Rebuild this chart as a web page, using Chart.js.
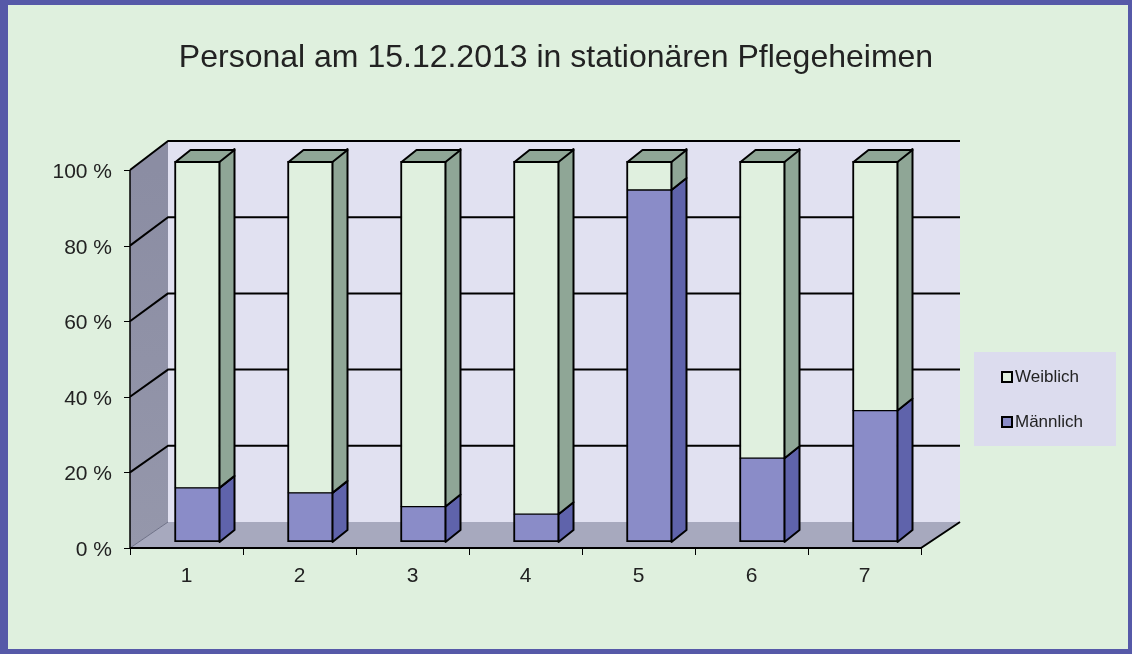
<!DOCTYPE html>
<html>
<head>
<meta charset="utf-8">
<script src="https://cdn.jsdelivr.net/npm/chart.js@4/dist/chart.umd.min.js"></script>
<style>
html,body{margin:0;padding:0;background:#5659a8;}
canvas{display:block;}
</style>
</head>
<body>
<canvas id="c" width="1132" height="654"></canvas>
<script>
const chartTitle = 'Personal am 15.12.2013 in stationären Pflegeheimen';
const categories = ['1', '2', '3', '4', '5', '6', '7'];
const maennlich = [14.2, 12.9, 9.3, 7.3, 92.4, 22.0, 34.5];
const weiblich = [85.8, 87.1, 90.7, 92.7, 7.6, 78.0, 65.5];
const yTicks = [0, 20, 40, 60, 80, 100];
const yTickLabels = ['0 %', '20 %', '40 %', '60 %', '80 %', '100 %'];
const seriesLabels = ['Männlich', 'Weiblich'];

const FONT = '"Liberation Sans", Arial, sans-serif';
const COL = {
  bg: '#dff0de', border: '#5659a8', back: '#e1e1f1', floor: '#a7a9be', left: '#8f91a6',
  wFront: '#e0f0df', wSide: '#8fa696', mFront: '#8a8cc8', mSide: '#5f63ab', text: '#222'
};
const BAR_DX = 15, BAR_DY = 12;

const threeD = {
  id: 'threeD',
  beforeDraw(chart) {
    const ctx = chart.ctx;
    ctx.save();
    ctx.fillStyle = COL.border;
    ctx.fillRect(0, 0, chart.width, chart.height);
    ctx.fillStyle = COL.bg;
    ctx.fillRect(8, 5, 1120, 644);
    // title
    ctx.fillStyle = COL.text;
    ctx.font = '32px ' + FONT;
    ctx.textAlign = 'center';
    ctx.textBaseline = 'alphabetic';
    ctx.fillText(chartTitle, 556, 67);
    ctx.restore();
  },
  beforeDatasetsDraw(chart) {
    const ctx = chart.ctx, x = chart.scales.x, y = chart.scales.y;
    const bot = y.bottom;
    const frontY = v => bot + 6 + (y.getPixelForValue(v) - bot) * 378 / 381;
    const backY = v => y.getPixelForValue(v) - 20;
    const fL = x.left - 11, fR = x.right - 11;
    const bL = x.left + 27, bR = x.right + 28;
    const f0 = frontY(0), f100 = frontY(100), b0 = backY(0), b100 = backY(100);
    ctx.save();
    // back wall
    ctx.fillStyle = COL.back;
    ctx.fillRect(bL, b100, bR - bL, b0 - b100);
    // floor
    ctx.fillStyle = COL.floor;
    ctx.beginPath();
    ctx.moveTo(fL, f0); ctx.lineTo(bL, b0); ctx.lineTo(bR, b0); ctx.lineTo(fR, f0);
    ctx.closePath(); ctx.fill();
    // left wall
    const g = ctx.createLinearGradient(0, f100, 0, f0);
    g.addColorStop(0, '#8b8da3'); g.addColorStop(1, '#9597ab');
    ctx.fillStyle = g;
    ctx.beginPath();
    ctx.moveTo(fL, f0); ctx.lineTo(fL, f100); ctx.lineTo(bL, b100); ctx.lineTo(bL, b0);
    ctx.closePath(); ctx.fill();
    // floor/left wall seam
    ctx.strokeStyle = '#6e7088'; ctx.lineWidth = 1;
    ctx.beginPath(); ctx.moveTo(fL, f0); ctx.lineTo(bL, b0); ctx.stroke();
    // gridlines
    ctx.strokeStyle = '#000'; ctx.lineWidth = 2; ctx.lineJoin = 'round';
    yTicks.forEach(v => {
      if (v === 0) return;
      ctx.beginPath();
      ctx.moveTo(fL, frontY(v)); ctx.lineTo(bL, backY(v)); ctx.lineTo(bR, backY(v));
      ctx.stroke();
    });
    // left axis
    ctx.lineWidth = 1.5;
    ctx.beginPath(); ctx.moveTo(fL, f100); ctx.lineTo(fL, f0); ctx.stroke();
    ctx.lineWidth = 1;
    yTicks.forEach(v => {
      ctx.beginPath(); ctx.moveTo(fL - 6, Math.round(frontY(v)) + 0.5); ctx.lineTo(fL, Math.round(frontY(v)) + 0.5); ctx.stroke();
    });
    // floor front edge & right edge
    ctx.lineWidth = 2;
    ctx.beginPath(); ctx.moveTo(fL, f0); ctx.lineTo(fR, f0); ctx.lineTo(bR, b0); ctx.stroke();
    // x ticks
    ctx.lineWidth = 1;
    const step = (x.right - x.left) / categories.length;
    for (let i = 0; i <= categories.length; i++) {
      const px = Math.round(fL + i * step) + 0.5;
      ctx.beginPath(); ctx.moveTo(px, f0); ctx.lineTo(px, f0 + 7); ctx.stroke();
    }
    // y labels
    ctx.fillStyle = COL.text;
    ctx.font = '21px ' + FONT;
    ctx.textAlign = 'right'; ctx.textBaseline = 'alphabetic';
    yTicks.forEach((v, i) => ctx.fillText(yTickLabels[i], 112, frontY(v) + 8));
    // x labels
    ctx.textAlign = 'center';
    categories.forEach((c, i) => {
      const cx = x.getPixelForValue(i) - 11;
      ctx.fillText(c, cx, 582);
    });
    ctx.restore();
  },
  afterDatasetsDraw(chart) {
    const ctx = chart.ctx;
    ctx.save();
    ctx.strokeStyle = '#000'; ctx.lineWidth = 2; ctx.lineJoin = 'round';
    const n = chart.data.datasets.length;
    chart.data.datasets.forEach((ds, di) => {
      const meta = chart.getDatasetMeta(di);
      meta.data.forEach((bar, j) => {
        const p = bar.getProps(['x', 'y', 'base', 'width'], true);
        const L = p.x - p.width / 2, R = p.x + p.width / 2;
        const top = Math.min(p.y, p.base), bot = Math.max(p.y, p.base);
        if (bot - top < 0.5) return;
        ctx.fillStyle = ds.sideColor;
        ctx.beginPath();
        ctx.moveTo(R - 1, top); ctx.lineTo(R - 1 + BAR_DX, top - BAR_DY);
        ctx.lineTo(R - 1 + BAR_DX, bot - BAR_DY); ctx.lineTo(R - 1, bot);
        ctx.closePath(); ctx.fill(); ctx.stroke();
        if (di === n - 1) {
          ctx.fillStyle = ds.topColor;
          ctx.beginPath();
          ctx.moveTo(L + 1, top + 1); ctx.lineTo(L + 1 + BAR_DX, top + 1 - BAR_DY);
          ctx.lineTo(R - 1 + BAR_DX, top + 1 - BAR_DY); ctx.lineTo(R - 1, top + 1);
          ctx.closePath(); ctx.fill(); ctx.stroke();
        }
      });
    });
    ctx.restore();
  },
  afterDraw(chart) {
    const ctx = chart.ctx;
    ctx.save();
    ctx.fillStyle = '#dcdcee';
    ctx.fillRect(974, 352, 142, 94);
    const items = [
      { label: chart.data.datasets[1].label, color: COL.wFront, y: 382 },
      { label: chart.data.datasets[0].label, color: COL.mFront, y: 427 }
    ];
    ctx.font = '17px ' + FONT;
    ctx.textAlign = 'left'; ctx.textBaseline = 'alphabetic';
    items.forEach(it => {
      ctx.fillStyle = '#000';
      ctx.fillRect(1001, it.y - 11, 12, 12);
      ctx.fillStyle = it.color;
      ctx.fillRect(1003, it.y - 9, 8, 8);
      ctx.fillStyle = COL.text;
      ctx.fillText(it.label, 1015, it.y);
    });
    ctx.restore();
  }
};

new Chart(document.getElementById('c'), {
  type: 'bar',
  data: {
    labels: categories,
    datasets: [
      { label: seriesLabels[0], data: maennlich, backgroundColor: COL.mFront, sideColor: COL.mSide, topColor: COL.mSide,
        borderColor: '#000', borderWidth: { left: 2, right: 2, bottom: 2, top: 1 }, borderSkipped: false, barThickness: 46 },
      { label: seriesLabels[1], data: weiblich, backgroundColor: COL.wFront, sideColor: COL.wSide, topColor: COL.wSide,
        borderColor: '#000', borderWidth: { left: 2, right: 2, top: 2, bottom: 1 }, borderSkipped: false, barThickness: 46 }
    ]
  },
  options: {
    responsive: false,
    animation: false,
    devicePixelRatio: 1,
    layout: { padding: { left: 141, right: 200, top: 161, bottom: 112 } },
    plugins: { legend: { display: false }, title: { display: false }, tooltip: { enabled: false } },
    scales: {
      x: { stacked: true, display: false, offset: true },
      y: { stacked: true, display: false, min: 0, max: 100 }
    }
  },
  plugins: [threeD]
});
</script>
</body>
</html>
